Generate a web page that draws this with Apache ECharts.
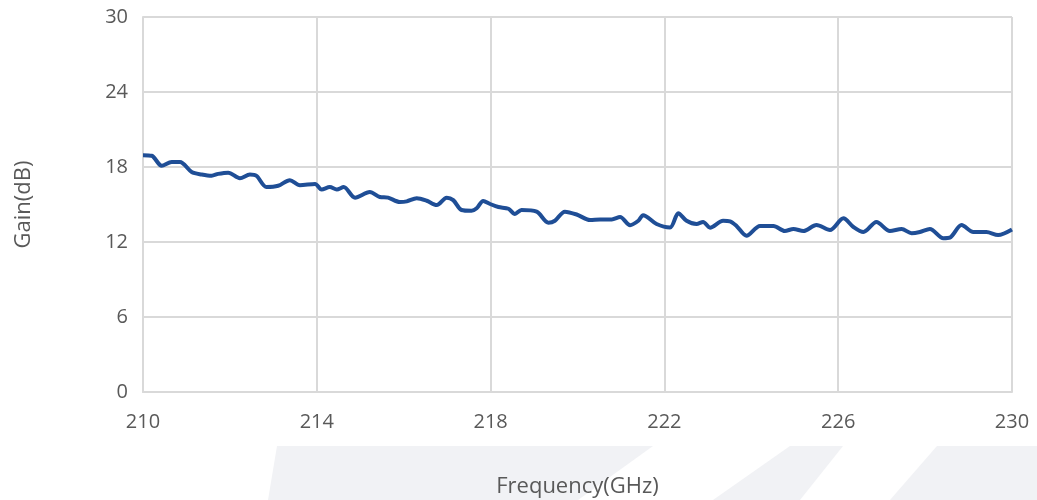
<!DOCTYPE html>
<html>
<head>
	<meta charset="utf-8">
	<title>Gain</title>
	<style>
		html, body { margin: 0; padding: 0; background: #fff; }
		#chart { width: 1037px; height: 500px; }
	</style>
</head>
<body>
	<div id="chart"></div>
</body>
<script type="text/javascript" src="https://cdn.jsdelivr.net/npm/echarts@6/dist/echarts.min.js"></script>
<script type="text/javascript">
	var freq = [210.0, 210.2, 210.43, 210.66, 210.85, 211.12, 211.35, 211.58, 211.73, 211.96,
		212.23, 212.46, 212.61, 212.84, 213.11, 213.38, 213.61, 213.96, 214.11, 214.3,
		214.46, 214.62, 214.88, 215.22, 215.45, 215.64, 215.91, 216.07, 216.3, 216.53,
		216.76, 216.99, 217.14, 217.33, 217.56, 217.68, 217.83, 217.99, 218.18, 218.41,
		218.56, 218.71, 219.06, 219.33, 219.48, 219.71, 219.98, 220.29, 220.52, 220.79,
		220.98, 221.21, 221.4, 221.51, 221.82, 222.13, 222.32, 222.51, 222.74, 222.89,
		223.05, 223.35, 223.51, 223.66, 223.89, 224.2, 224.51, 224.77, 224.97, 225.2,
		225.5, 225.81, 226.12, 226.35, 226.58, 226.88, 227.19, 227.46, 227.69, 227.88,
		228.11, 228.42, 228.57, 228.84, 229.11, 229.41, 229.68, 230.0];
	var gain = [18.95, 18.9, 18.1, 18.4, 18.4, 17.6, 17.4, 17.3, 17.45, 17.55,
		17.1, 17.4, 17.3, 16.4, 16.5, 16.95, 16.55, 16.65, 16.2, 16.4,
		16.2, 16.4, 15.55, 16.0, 15.6, 15.55, 15.2, 15.25, 15.5, 15.3,
		14.96, 15.55, 15.35, 14.56, 14.5, 14.7, 15.28, 15.04, 14.8, 14.66,
		14.24, 14.56, 14.43, 13.55, 13.7, 14.43, 14.2, 13.76, 13.8, 13.8,
		14.0, 13.35, 13.7, 14.15, 13.44, 13.16, 14.3, 13.7, 13.44, 13.6,
		13.15, 13.7, 13.65, 13.28, 12.5, 13.28, 13.28, 12.88, 13.04, 12.88,
		13.36, 12.96, 13.9, 13.2, 12.8, 13.6, 12.88, 13.04, 12.7, 12.8,
		13.04, 12.3, 12.35, 13.36, 12.8, 12.8, 12.56, 13.0];
	var xTicks = [210, 214, 218, 222, 226, 230];
	var yTicks = [0, 6, 12, 18, 24, 30];

	var lineData = [];
	for (var i = 0; i < freq.length; i++) {
		lineData.push([freq[i], gain[i]]);
	}

	var myChart = echarts.init(document.getElementById('chart'));
	var textColor = '#595959';
	var gridColor = '#d9d9d9';
	var font = '"Open Sans", sans-serif';

	var option = {
		backgroundColor: '#ffffff',
		animation: false,
		textStyle: { fontFamily: font },
		graphic: [
			{ type: 'polygon', z: -10, shape: { points: [[277, 446], [653, 446], [578, 500], [268, 500]] }, style: { fill: '#f1f2f5' } },
			{ type: 'polygon', z: -10, shape: { points: [[790, 446], [843, 446], [800, 500], [713, 500]] }, style: { fill: '#f1f2f5' } },
			{ type: 'polygon', z: -10, shape: { points: [[937, 446], [1037, 446], [1037, 500], [890, 500]] }, style: { fill: '#f1f2f5' } }
		],
		grid: {
			left: 143,
			right: 25,
			top: 17,
			bottom: 108,
			containLabel: false,
			outerBoundsMode: 'none'
		},
		xAxis: {
			type: 'value',
			min: xTicks[0],
			max: xTicks[xTicks.length - 1],
			interval: 4,
			name: 'Frequency(GHz)',
			nameLocation: 'middle',
			nameGap: 84,
			nameTextStyle: { color: textColor, fontSize: 22, fontFamily: font },
			axisLine: { lineStyle: { color: gridColor, width: 2 } },
			axisTick: { show: false },
			axisLabel: { color: textColor, fontSize: 20, margin: 20, fontFamily: font },
			splitLine: { show: true, lineStyle: { color: gridColor, width: 2 } }
		},
		yAxis: {
			type: 'value',
			min: yTicks[0],
			max: yTicks[yTicks.length - 1],
			interval: 6,
			name: 'Gain(dB)',
			nameLocation: 'middle',
			nameGap: 108,
			nameRotate: 90,
			nameTextStyle: { color: textColor, fontSize: 22, fontFamily: font },
			axisLine: { show: true, lineStyle: { color: gridColor, width: 2 } },
			axisTick: { show: false },
			axisLabel: { color: textColor, fontSize: 20, margin: 15, fontFamily: font },
			splitLine: { show: true, lineStyle: { color: gridColor, width: 2 } }
		},
		series: [
			{
				name: 'Gain',
				type: 'line',
				data: lineData,
				smooth: 0.3,
				showSymbol: false,
				lineStyle: { color: '#1f4e96', width: 4 },
				itemStyle: { color: '#1f4e96' }
			}
		]
	};

	myChart.setOption(option);
</script>
</html>
